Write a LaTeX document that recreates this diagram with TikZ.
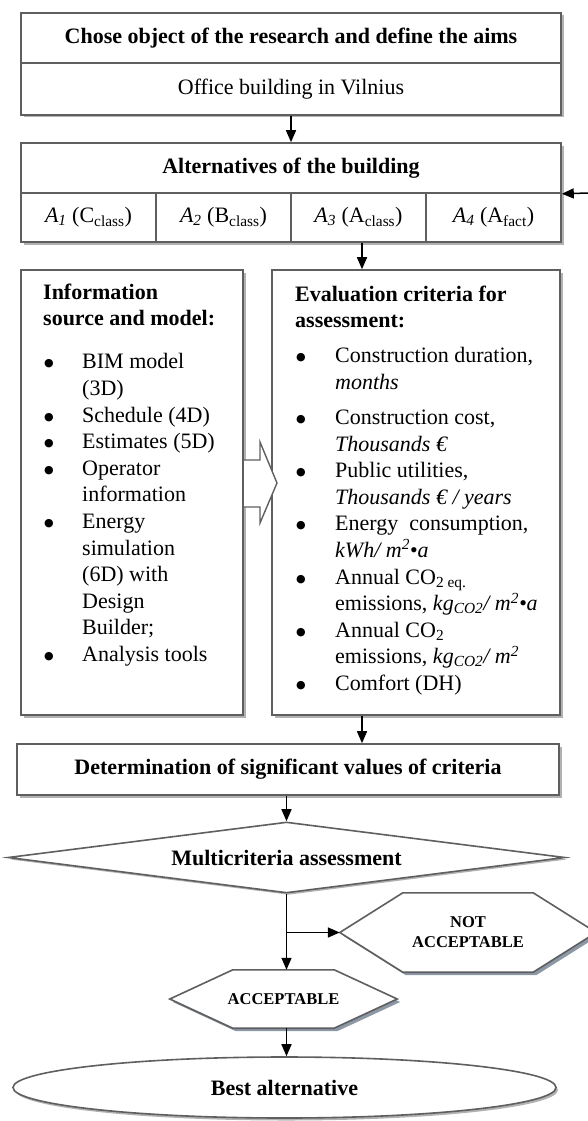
\documentclass[tikz,border=0pt]{standalone}
\usepackage{fontspec}
\setmainfont{Liberation Serif}
\newfontfamily\dotfont{DejaVu Sans}
\usepackage{tikz}
\usetikzlibrary{shapes.geometric,shadows,arrows.meta}
\pgfdeclarelayer{background}
\pgfsetlayers{background,main}

\definecolor{edge}{RGB}{95,95,95}
\definecolor{shade}{RGB}{178,178,178}
\definecolor{hexshade}{RGB}{140,152,166}

\newcommand{\blt}[1]{\makebox[#1][l]{\hspace{1pt}\raisebox{2pt}[0pt][0pt]{\dotfont\fontsize{11}{11}\selectfont ●}}}

\begin{document}
\begin{tikzpicture}[x=1pt,y=-1pt,
  rowbox/.style={draw=edge,line width=1.6pt,fill=white,inner sep=0pt,
    font=\fontsize{22}{26.6}\selectfont,
    drop shadow={shadow xshift=2.5pt,shadow yshift=-2.5pt,fill=shade,opacity=1}},
  headbox/.style={rowbox,font=\fontsize{22}{26.6}\selectfont\bfseries},
  altcell/.style={rowbox,minimum width=135pt,minimum height=49pt},
  panel/.style={rowbox,minimum height=445pt},
  listtext/.style={anchor=north west,align=left,inner sep=0pt,
    font=\fontsize{22}{26.6}\selectfont},
  decision/.style={diamond,draw=edge,line width=1.6pt,fill=white,aspect=7.8,
    inner sep=0pt,minimum width=557pt,minimum height=71pt,
    font=\fontsize{22}{26.6}\selectfont\bfseries,
    drop shadow={shadow xshift=2pt,shadow yshift=-2pt,fill=shade,opacity=1}},
  hexbox/.style={inner sep=0pt,align=center,
    font=\fontsize{16.5}{20}\selectfont\bfseries},
  hexline/.style={draw=edge,line width=1.6pt,fill=white,
    drop shadow={shadow xshift=3pt,shadow yshift=-3pt,fill=hexshade,opacity=1}},
  goal/.style={ellipse,draw=edge,line width=1.6pt,fill=white,inner sep=0pt,
    minimum width=543pt,minimum height=61pt,
    font=\fontsize{22}{26.6}\selectfont\bfseries,
    drop shadow={shadow xshift=2pt,shadow yshift=-2.5pt,fill=shade,opacity=1}},
  arr/.style={-{Triangle[length=12pt,width=10pt]},line width=1.5pt,black},
  hollow/.style={draw=edge,line width=1.4pt,fill=white}]

\useasboundingbox (0,0) rectangle (588,1121);

\node[headbox,minimum width=540pt,minimum height=50pt] (chose) at (291,38)
  {Chose object of the research and define the aims};
\node[rowbox,minimum width=540pt,minimum height=52pt] (office) at (291,89)
  {Office building in Vilnius};

\node[headbox,minimum width=540pt,minimum height=50pt] (alt) at (291,168)
  {Alternatives of the building};
\node[altcell] (a1) at (88.5,217.5) {\textit{A\textsubscript{1}} (C\textsubscript{class})};
\node[altcell] (a2) at (223.5,217.5) {\textit{A\textsubscript{2}} (B\textsubscript{class})};
\node[altcell] (a3) at (358.5,217.5) {\textit{A\textsubscript{3}} (A\textsubscript{class})};
\node[altcell] (a4) at (493.5,217.5) {\textit{A\textsubscript{4}} (A\textsubscript{fact})};

\node[panel,minimum width=222pt] (info) at (132,492.5) {};
\node[panel,minimum width=288pt] (eval) at (416,492.5) {};

\node[listtext] (infotext) at (43,280.4) {\strut\textbf{Information}\\
  \textbf{source and model:}\\[16.4pt]
  \blt{39pt}BIM model\\
  \hspace*{39pt}(3D)\\
  \blt{39pt}Schedule (4D)\\
  \blt{39pt}Estimates (5D)\\
  \blt{39pt}Operator\\
  \hspace*{39pt}information\\
  \blt{39pt}Energy\\
  \hspace*{39pt}simulation\\
  \hspace*{39pt}(6D) with\\
  \hspace*{39pt}Design\\
  \hspace*{39pt}Builder;\\
  \blt{39pt}Analysis tools};

\node[listtext] (evaltext) at (295,282.4) {\strut\textbf{Evaluation criteria for}\\
  \textbf{assessment:}\\[8.4pt]
  \blt{40pt}Construction duration,\\
  \hspace*{40pt}\textit{months}\\[8.4pt]
  \blt{40pt}Construction cost,\\
  \hspace*{40pt}\textit{Thousands €}\\
  \blt{40pt}Public utilities,\\
  \hspace*{40pt}\textit{Thousands € / years}\\
  \blt{40pt}Energy\ \ consumption,\\
  \hspace*{40pt}\textit{kWh/ m\textsuperscript{2}\textbullet a}\\
  \blt{40pt}Annual CO\textsubscript{2 eq.}\\
  \hspace*{40pt}emissions, \textit{kg\textsubscript{CO2}/ m\textsuperscript{2}\textbullet a}\\
  \blt{40pt}Annual CO\textsubscript{2}\\
  \hspace*{40pt}emissions, \textit{kg\textsubscript{CO2}/ m\textsuperscript{2}}\\
  \blt{40pt}Comfort (DH)};

\draw[hollow] (244,460) -- (260,460) -- (260,442) -- (277,483) -- (260,523)
  -- (260,507) -- (244,507);

\node[headbox,minimum width=542pt,minimum height=51pt] (det) at (288,769.5)
  {Determination of significant values of criteria};

\node[decision] (multi) at (286.5,857.5) {Multicriteria assessment};

\node[hexbox,minimum width=256pt,minimum height=79pt] (notacc) at (468,932.5)
  {NOT\\ACCEPTABLE};
\node[hexbox,minimum width=227pt,minimum height=58pt] (acc) at (283.5,999)
  {ACCEPTABLE};

\begin{pgfonlayer}{background}
\draw[hexline] (notacc.west) -- ([xshift=63pt]notacc.north west)
  -- ([xshift=-63pt]notacc.north east) -- (notacc.east)
  -- ([xshift=-63pt]notacc.south east) -- ([xshift=63pt]notacc.south west) -- cycle;
\draw[hexline] (acc.west) -- ([xshift=63pt]acc.north west)
  -- ([xshift=-63pt]acc.north east) -- (acc.east)
  -- ([xshift=-63pt]acc.south east) -- ([xshift=63pt]acc.south west) -- cycle;
\end{pgfonlayer}

\node[goal] (best) at (284.5,1087.5) {Best alternative};

\coordinate (feed) at (588,193);
\coordinate (cx) at (362,0);

\draw[arr] (office.south) -- (alt.north);
\draw[arr] (feed) -- (alt.south east);
\draw[arr] (a3.south -| cx) -- (eval.north -| cx);
\draw[arr] (eval.south -| cx) -- (det.north -| cx);
\draw[arr] (det.south -| multi.north) -- (multi.north);
\draw[arr] (multi.south) -- (acc.north -| multi.south);
\draw[arr] (multi.south |- notacc.west) -- (notacc.west);
\draw[arr] (acc.south -| multi.south) -- (best.north -| multi.south);

\end{tikzpicture}
\end{document}
